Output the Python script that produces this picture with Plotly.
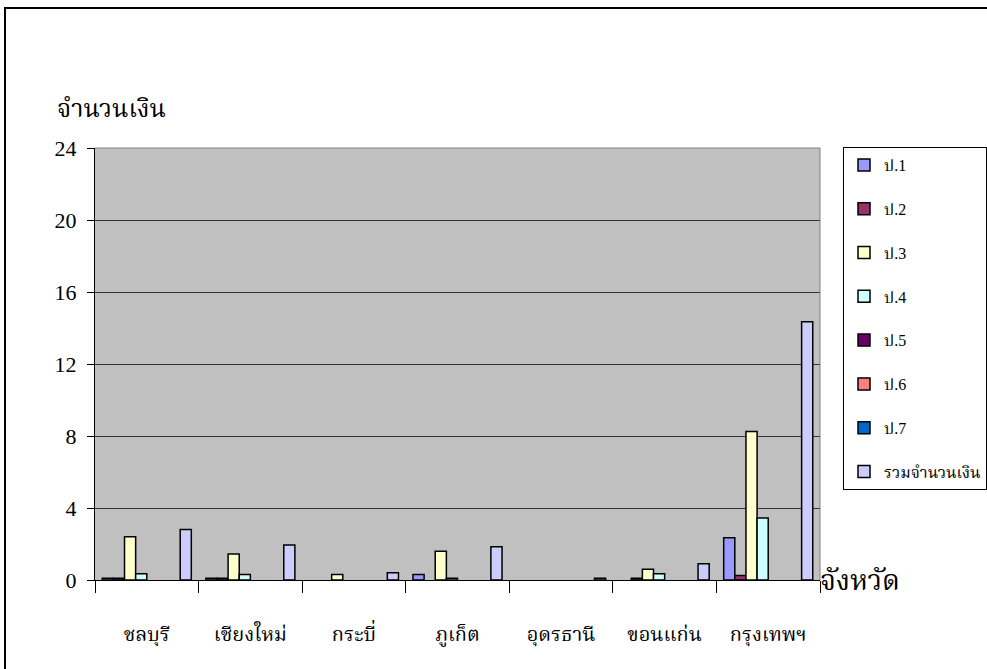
import plotly.graph_objects as go

# provinces (x categories)
provinces = ["ชลบุรี", "เชียงใหม่", "กระบี่", "ภูเก็ต", "อุดรธานี", "ขอนแก่น", "กรุงเทพฯ"]

# series values per province (None = no bar)
p1 = [0.1, 0.1, None, 0.3, None, None, 2.35]
p2 = [0.1, 0.1, None, None, None, 0.1, 0.25]
p3 = [2.4, 1.45, 0.3, 1.6, None, 0.6, 8.25]
p4 = [0.35, 0.3, None, 0.1, None, 0.35, 3.45]
p5 = [None, None, None, None, None, None, None]
p6 = [None, None, None, None, None, None, None]
p7 = [None, None, None, None, None, None, None]
total = [2.8, 1.95, 0.4, 1.85, 0.1, 0.9, 14.35]

series_names = ["ป.1", "ป.2", "ป.3", "ป.4", "ป.5", "ป.6", "ป.7", "รวมจำนวนเงิน"]
series_values = [p1, p2, p3, p4, p5, p6, p7, total]
series_colors = ["#9999FF", "#993366", "#FFFFCC", "#CCFFFF", "#660066", "#FF8080", "#0066CC", "#CCCCFF"]

y_ticks = [0, 4, 8, 12, 16, 20, 24]

FONT = "Liberation Serif, Times New Roman, Noto Serif Thai, serif"

fig = go.Figure()
for name, vals, col in zip(series_names, series_values, series_colors):
    fig.add_trace(go.Bar(
        name=name, x=provinces, y=vals,
        marker={"color": col, "line": {"color": "black", "width": 1.5}},
        legendgroup=name,
    ))

# plot area pixel box: x 95..820, y 148..580
L, R, T, B = 95, 820, 148, 580
W, H = 987, 669

def px(x):
    return (x - L) / (R - L)

def py(y):
    return (B - y) / (B - T)

fig.update_layout(
    width=W, height=H,
    barmode="group", bargap=0.14, bargroupgap=0,
    paper_bgcolor="white", plot_bgcolor="#C0C0C0",
    margin={"l": L, "r": W - R, "t": T, "b": H - B, "pad": 0, "autoexpand": False},
    font={"family": FONT, "size": 20, "color": "black"},
    legend={
        "x": px(843), "y": py(147), "xanchor": "left", "yanchor": "top",
        "bgcolor": "white", "bordercolor": "black", "borderwidth": 1,
        "font": {"family": FONT, "size": 16},
        "tracegroupgap": 20, "maxheight": 420,
    },
    xaxis={
        "type": "category", "showgrid": False,
        "ticks": "outside", "tickson": "boundaries", "ticklen": 12,
        "tickcolor": "black", "tickwidth": 1,
        "showline": True, "linecolor": "black", "linewidth": 1,
        "ticklabelstandoff": 36,
        "tickfont": {"family": FONT, "size": 20},
    },
    yaxis={
        "range": [0, 24], "tickvals": y_ticks, "ticktext": [str(v) for v in y_ticks],
        "showgrid": True, "gridcolor": "#333333", "gridwidth": 1,
        "ticks": "outside", "ticklen": 7, "tickcolor": "black",
        "showline": True, "linecolor": "black", "linewidth": 1,
        "zeroline": False, "ticklabelstandoff": 6,
        "tickfont": {"family": FONT, "size": 22},
    },
    shapes=[
        # plot-area border (top and right)
        {"type": "line", "xref": "paper", "yref": "paper", "x0": 0, "x1": 1, "y0": 1, "y1": 1,
         "line": {"color": "#808080", "width": 1}},
        {"type": "line", "xref": "paper", "yref": "paper", "x0": 1, "x1": 1, "y0": 0, "y1": 1,
         "line": {"color": "#808080", "width": 1}},
        # outer chart frame
        {"type": "rect", "xref": "paper", "yref": "paper",
         "x0": px(5), "x1": px(995), "y0": py(675), "y1": py(8),
         "line": {"color": "black", "width": 2}},
    ],
    annotations=[
        {"text": "จำนวนเงิน", "x": px(55), "y": py(108), "xref": "paper", "yref": "paper",
         "xanchor": "left", "yanchor": "middle", "showarrow": False,
         "font": {"family": FONT, "size": 25}},
        {"text": "จังหวัด", "x": px(818), "y": py(580), "xref": "paper", "yref": "paper",
         "xanchor": "left", "yanchor": "middle", "showarrow": False,
         "font": {"family": FONT, "size": 28}},
    ],
)

fig.write_html("out.html", config={"displayModeBar": False},
               post_script="document.body.style.margin='0';")
